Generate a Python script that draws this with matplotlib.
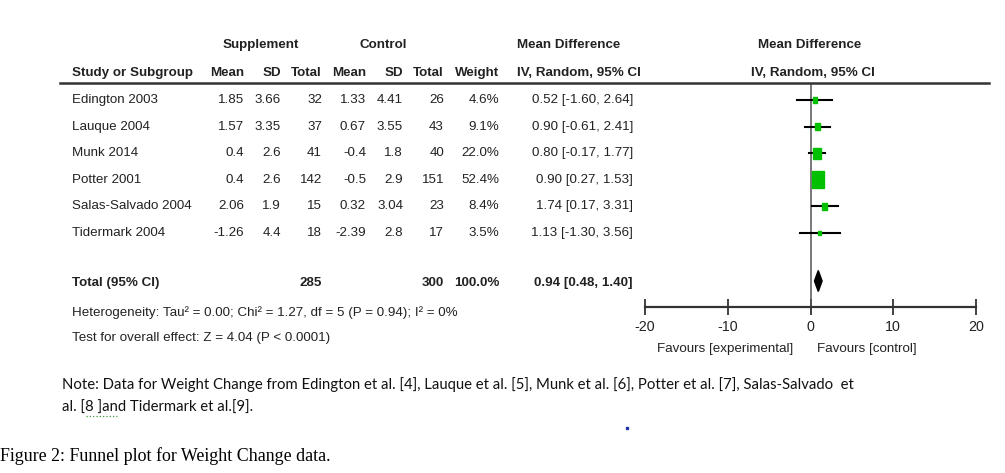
import matplotlib.pyplot as plt
from matplotlib.lines import Line2D
from matplotlib.patches import Rectangle, Polygon

plt.rcParams['axes.unicode_minus'] = False

W, H = 1005, 473

# data
studies = ['Edington 2003', 'Lauque 2004', 'Munk 2014', 'Potter 2001',
           'Salas-Salvado 2004', 'Tidermark 2004']
sup_mean = [1.85, 1.57, 0.4, 0.4, 2.06, -1.26]
sup_sd = [3.66, 3.35, 2.6, 2.6, 1.9, 4.4]
sup_n = [32, 37, 41, 142, 15, 18]
ctl_mean = [1.33, 0.67, -0.4, -0.5, 0.32, -2.39]
ctl_sd = [4.41, 3.55, 1.8, 2.9, 3.04, 2.8]
ctl_n = [26, 43, 40, 151, 23, 17]
weight = [4.6, 9.1, 22.0, 52.4, 8.4, 3.5]
md = [0.52, 0.90, 0.80, 0.90, 1.74, 1.13]
ci_lo = [-1.60, -0.61, -0.17, 0.27, 0.17, -1.30]
ci_hi = [2.64, 2.41, 1.77, 1.53, 3.31, 3.56]
total_sup_n = 285
total_ctl_n = 300
total_md, total_lo, total_hi = 0.94, 0.48, 1.40
xticks = [-20, -10, 0, 10, 20]

# no narrow Arial here, so a smaller Liberation Sans stands in
FONT = ['Liberation Sans Narrow', 'Arial Narrow', 'Liberation Sans', 'DejaVu Sans']
FS = 9.6
TXT = '#222222'
GREEN = '#00c000'


def fx(px):
    return px / W


def fy(py):
    return 1 - py / H


fig = plt.figure(figsize=(W / 100, H / 100), dpi=100)


def put(px, py, s, ha='left', bold=False, size=FS):
    fig.text(fx(px), fy(py), s, ha=ha, va='center', family=FONT,
             fontsize=size, color=TXT, fontweight='bold' if bold else 'normal')


# headers
put(261, 45, 'Supplement', ha='center', bold=True)
put(383, 45, 'Control', ha='center', bold=True)
put(517, 45, 'Mean Difference', bold=True)
put(810, 45, 'Mean Difference', ha='center', bold=True)
put(72, 73, 'Study or Subgroup', bold=True)
cols = [244, 281, 322, 366, 403, 444, 499]
for x, s in zip(cols, ['Mean', 'SD', 'Total', 'Mean', 'SD', 'Total', 'Weight']):
    put(x, 73, s, ha='right', bold=True)
put(517, 73, 'IV, Random, 95% CI', bold=True)
put(813, 73, 'IV, Random, 95% CI', ha='center', bold=True)

fig.add_artist(Line2D([fx(60), fx(989)], [fy(83), fy(83)], color='#333333', lw=1.8))

# study rows
row_y0, row_dy = 100, 26.6
for i, name in enumerate(studies):
    py = row_y0 + i * row_dy
    put(72, py, name)
    vals = [str(sup_mean[i]), str(sup_sd[i]), str(sup_n[i]),
            str(ctl_mean[i]), str(ctl_sd[i]), str(ctl_n[i]), f'{weight[i]:.1f}%']
    for x, s in zip(cols, vals):
        put(x, py, s, ha='right')
    put(633, py, f'{md[i]:.2f} [{ci_lo[i]:.2f}, {ci_hi[i]:.2f}]', ha='right')

# total
put(72, 283, 'Total (95% CI)', bold=True)
put(322, 283, str(total_sup_n), ha='right', bold=True)
put(444, 283, str(total_ctl_n), ha='right', bold=True)
put(499, 283, f'{sum(weight):.1f}%', ha='right', bold=True)
put(633, 283, f'{total_md:.2f} [{total_lo:.2f}, {total_hi:.2f}]', ha='right', bold=True)
put(72, 313, 'Heterogeneity: Tau² = 0.00; Chi² = 1.27, df = 5 (P = 0.94); I² = 0%')
put(72, 338, 'Test for overall effect: Z = 4.04 (P < 0.0001)')

# forest plot
top, bot = 83, 307
ax = fig.add_axes([fx(645), fy(bot), (976 - 645) / W, (bot - top) / H])
ax.set_xlim(-20, 20)
ax.set_ylim((bot - row_y0) / row_dy, (top - row_y0) / row_dy)
for s in ['top', 'left', 'right']:
    ax.spines[s].set_visible(False)
ax.spines['bottom'].set_linewidth(1.6)
ax.spines['bottom'].set_color('#333333')
ax.set_yticks([])
ax.set_xticks(xticks)
ax.set_xticklabels([str(t) for t in xticks], family=FONT, fontsize=10.3, color=TXT)
ax.tick_params(axis='x', direction='inout', length=12, width=1.3, color='#333333', pad=3)
ax.axvline(0, color='#555555', lw=1.1)

px_per_unit = (976 - 645) / 40
max_w = max(weight)
for i in range(len(studies)):
    ax.plot([ci_lo[i], ci_hi[i]], [i, i], color='black', lw=1.5, zorder=3)
    f = (weight[i] / max_w) ** 0.5
    w = max(12 * f, 3) / px_per_unit
    h = max(17 * f, 3) / row_dy
    ax.add_patch(Rectangle((md[i] - w / 2, i - h / 2), w, h, color=GREEN, zorder=4))

ty = (281 - row_y0) / row_dy
dh = 10.5 / row_dy
ax.add_patch(Polygon([[total_lo, ty], [total_md, ty - dh], [total_hi, ty], [total_md, ty + dh]],
                     closed=True, color='black', zorder=4))

put(793, 349, 'Favours [experimental]', ha='right')
put(817, 349, 'Favours [control]')

# note and caption
note_font = ['Lato', 'DejaVu Sans']
fig.text(fx(62), fy(385), 'Note: Data for Weight Change from Edington et al. [4], Lauque et al. [5], '
         'Munk et al. [6], Potter et al. [7], Salas-Salvado  et', family=note_font,
         fontsize=10.7, color='#111111', va='center')
fig.text(fx(62), fy(408), 'al. [8 ]and Tidermark et al.[9].', family=note_font,
         fontsize=10.7, color='#111111', va='center')
# spell-check squiggle under "8 ]and" and the stray blue dot
fig.add_artist(Line2D([fx(86), fx(117)], [fy(416), fy(416)], color='#3a9a3a', lw=0.9, ls=':'))
fig.add_artist(Line2D([fx(627)], [fy(428)], marker='s', ms=1.5, color='#2233aa', lw=0))
fig.text(fx(0), fy(456), 'Figure 2: Funnel plot for Weight Change data.',
         family=['Liberation Serif', 'DejaVu Serif'], fontsize=12.85, color='black', va='center')

fig.savefig('out.png', dpi=100)
